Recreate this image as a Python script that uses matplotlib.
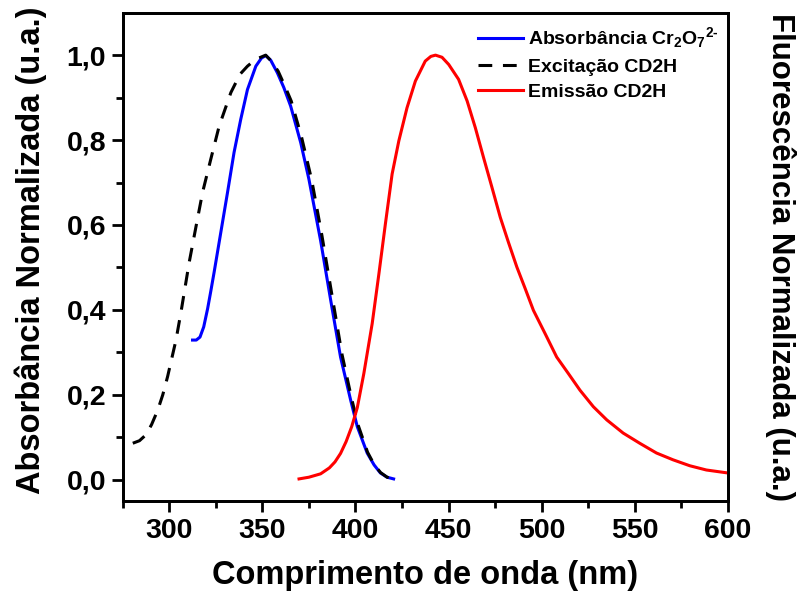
import matplotlib
matplotlib.use('Agg')
import matplotlib.pyplot as plt

plt.rcParams['font.family'] = ['Liberation Sans', 'DejaVu Sans']
plt.rcParams['font.weight'] = 'bold'
plt.rcParams['mathtext.fontset'] = 'custom'
plt.rcParams['mathtext.rm'] = 'Liberation Sans:bold'
plt.rcParams['mathtext.bf'] = 'Liberation Sans:bold'
plt.rcParams['mathtext.it'] = 'Liberation Sans:bold'
plt.rcParams['mathtext.default'] = 'bf'

# absorbance of dichromate
abs_x = [312.5, 314.5, 316.5, 318.5, 320.6, 322.3, 324.1, 325.9, 327.7, 331.3, 334.8,
         338.4, 342.0, 346.5, 349.5, 351.8, 354.5, 358.1, 361.5, 365.2, 370.6, 375.0,
         381.3, 386.7, 392.0, 397.4, 401.0, 406.3, 410.0, 413.4, 417.0, 420.5]
abs_y = [0.329, 0.329, 0.336, 0.360, 0.403, 0.444, 0.489, 0.536, 0.583, 0.677, 0.771,
         0.849, 0.919, 0.974, 0.993, 0.999, 0.988, 0.958, 0.924, 0.880, 0.794, 0.708,
         0.563, 0.423, 0.289, 0.188, 0.125, 0.063, 0.035, 0.016, 0.006, 0.002]

# excitation CD2H
exc_x = [280.4, 284.0, 287.5, 290.5, 293.8, 296.5, 299.1, 303.6, 306.3, 310.7, 314.3,
         317.9, 322.3, 326.8, 333.1, 338.0, 342.0, 345.0, 348.0, 351.8, 355.0, 358.5,
         362.0, 365.5, 371.0, 376.5, 382.0, 387.5, 392.8, 398.0, 401.5, 406.5, 410.0,
         413.5, 417.0, 420.5]
exc_y = [0.086, 0.092, 0.106, 0.130, 0.164, 0.200, 0.243, 0.329, 0.395, 0.512, 0.595,
         0.677, 0.755, 0.833, 0.912, 0.955, 0.974, 0.985, 0.993, 1.000, 0.985, 0.962,
         0.928, 0.892, 0.808, 0.706, 0.575, 0.432, 0.295, 0.190, 0.128, 0.065, 0.036,
         0.017, 0.006, 0.002]

# emission CD2H
emi_x = [369.7, 375.0, 381.3, 386.0, 389.0, 392.0, 395.0, 398.0, 401.0, 404.5, 409.0,
         412.6, 416.1, 419.7, 423.3, 427.7, 432.2, 437.5, 440.5, 443.0, 446.5, 450.1,
         455.4, 460.0, 464.4, 468.8, 473.3, 477.8, 482.2, 486.7, 491.2, 495.6, 501.9,
         508.1, 514.4, 520.6, 527.8, 535.0, 543.8, 552.7, 561.7, 570.6, 579.6, 588.5,
         600.0]
emi_y = [0.002, 0.006, 0.014, 0.028, 0.042, 0.062, 0.090, 0.125, 0.170, 0.250, 0.368,
         0.485, 0.603, 0.720, 0.798, 0.876, 0.939, 0.986, 0.997, 1.000, 0.995, 0.978,
         0.943, 0.892, 0.829, 0.759, 0.689, 0.618, 0.559, 0.501, 0.450, 0.399, 0.344,
         0.289, 0.250, 0.211, 0.172, 0.141, 0.110, 0.086, 0.063, 0.047, 0.033, 0.023,
         0.016]

xticks = [300, 350, 400, 450, 500, 550, 600]
yticks = [0.0, 0.2, 0.4, 0.6, 0.8, 1.0]
ytick_labels = ['0,0', '0,2', '0,4', '0,6', '0,8', '1,0']

fig = plt.figure(figsize=(7.98, 6.01), dpi=100)
ax = fig.add_axes([0.1538, 0.1664, 0.7582, 0.8125])
ax2 = ax.twinx()

l1, = ax.plot(abs_x, abs_y, color='#0000ff', lw=2.2, label=r'Absorbância Cr$_2$O$_7$$^{2\text{-}}$')
l2, = ax.plot(exc_x, exc_y, color='black', lw=2.2, dashes=(4.5, 3.5), label='Excitação CD2H')
l3, = ax2.plot(emi_x, emi_y, color='#ff0000', lw=2.2, label='Emissão CD2H')

ax.set_xlim(275.6, 600)
ax.set_ylim(-0.05, 1.1)
ax2.set_ylim(-0.05, 1.1)

ax.set_xticks(xticks)
ax.set_xticks(range(275, 601, 25), minor=True)
ax.set_yticks(yticks)
ax.set_yticklabels(ytick_labels)
ax.set_yticks([0.1, 0.3, 0.5, 0.7, 0.9], minor=True)
ax.tick_params(which='major', direction='out', length=8, width=2, labelsize=20.5, pad=4,
               top=False, right=False)
ax.tick_params(which='minor', direction='out', length=5, width=2, top=False, right=False)
ax2.tick_params(which='both', right=False, labelright=False)

for a in (ax, ax2):
    for s in a.spines.values():
        s.set_linewidth(2)

ax.set_xlabel('Comprimento de onda (nm)', fontsize=23.5, fontweight='bold', labelpad=12)
ax.set_ylabel('Absorbância Normalizada (u.a.)', fontsize=23.5, fontweight='bold')
ax.yaxis.set_label_coords(-0.125, 0.514)
ax2.set_ylabel('Fluorescência Normalizada (u.a.)', fontsize=22.5, fontweight='bold',
               rotation=270, labelpad=49)

ax.legend(handles=[l1, l2, l3], loc='upper right', bbox_to_anchor=(0.997, 0.99),
          borderaxespad=0, frameon=False, handlelength=2.3, handletextpad=0.25,
          labelspacing=0.4, prop={'weight': 'bold', 'size': 14})

fig.savefig('out.png', dpi=100)
